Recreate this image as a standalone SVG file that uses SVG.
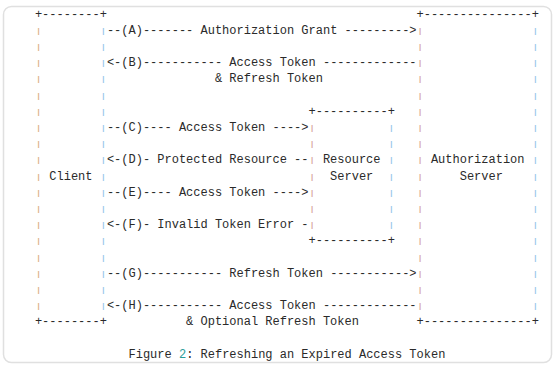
<svg xmlns="http://www.w3.org/2000/svg" width="557" height="370" viewBox="0 0 557 370">
  <style>
    text { font-family: "Liberation Mono", "Courier New", monospace; font-size: 12px; fill: #2a2a2a; }
    .bar { text-anchor: middle; }
    .c-tan { fill: #d9ae82; }
    .c-blue { fill: #93c3ea; }
    .c-rose { fill: #d6a09c; }
    .num { fill: #2a9d9a; }
  </style>

  <!-- panel -->
  <rect x="3.5" y="6.5" width="548" height="356" rx="8" fill="#ffffff" stroke="#e0e0e0" stroke-width="1.5"/>

  <!-- Client -->
  <g id="client">
    <text x="34.9" y="17.6">+--------+</text>
    <text x="34.9" y="325.4">+--------+</text>
    <g transform="scale(1,0.6667)">
      <text class="bar c-tan" x="38.5 38.5 38.5 38.5 38.5 38.5 38.5 38.5 38.5 38.5 38.5 38.5 38.5 38.5 38.5 38.5 38.5 38.5" y="49.15 73.45 97.75 122.05 146.35 170.65 194.95 219.25 243.55 267.85 292.15 316.45 340.75 365.05 389.35 413.65 437.95 462.25">||||||||||||||||||</text>
      <text class="bar c-blue" x="103.3 103.3 103.3 103.3 103.3 103.3 103.3 103.3 103.3 103.3 103.3 103.3 103.3 103.3 103.3 103.3 103.3 103.3" y="49.15 73.45 97.75 122.05 146.35 170.65 194.95 219.25 243.55 267.85 292.15 316.45 340.75 365.05 389.35 413.65 437.95 462.25">||||||||||||||||||</text>
    </g>
    <text x="49.3" y="179.6">Client</text>
  </g>

  <!-- Resource Server -->
  <g id="resource-server">
    <text x="308.5" y="114.8">+----------+</text>
    <text x="308.5" y="244.4">+----------+</text>
    <g transform="scale(1,0.6667)">
      <text class="bar c-rose" x="312.1 312.1 312.1 312.1 312.1 312.1 312.1" y="194.95 219.25 243.55 267.85 292.15 316.45 340.75">|||||||</text>
      <text class="bar c-blue" x="391.3 391.3 391.3 391.3 391.3 391.3 391.3" y="194.95 219.25 243.55 267.85 292.15 316.45 340.75">|||||||</text>
    </g>
    <text x="322.9" y="163.4">Resource</text>
    <text x="330.1" y="179.6">Server</text>
  </g>

  <!-- Authorization Server -->
  <g id="authorization-server">
    <text x="416.5" y="17.6">+---------------+</text>
    <text x="416.5" y="325.4">+---------------+</text>
    <g transform="scale(1,0.6667)">
      <text class="bar c-rose" x="420.1 420.1 420.1 420.1 420.1 420.1 420.1 420.1 420.1 420.1 420.1 420.1 420.1 420.1 420.1 420.1 420.1 420.1" y="49.15 73.45 97.75 122.05 146.35 170.65 194.95 219.25 243.55 267.85 292.15 316.45 340.75 365.05 389.35 413.65 437.95 462.25">||||||||||||||||||</text>
      <text class="bar c-blue" x="535.3 535.3 535.3 535.3 535.3 535.3 535.3 535.3 535.3 535.3 535.3 535.3 535.3 535.3 535.3 535.3 535.3 535.3" y="49.15 73.45 97.75 122.05 146.35 170.65 194.95 219.25 243.55 267.85 292.15 316.45 340.75 365.05 389.35 413.65 437.95 462.25">||||||||||||||||||</text>
    </g>
    <text x="430.9" y="163.4">Authorization</text>
    <text x="459.7" y="179.6">Server</text>
  </g>

  <!-- message arrows, drawn as monospace runs -->
  <g id="connectors">
    <text x="106.9" y="33.8">--(A)------- Authorization Grant ---------&gt;</text>
    <text x="106.9" y="66.2">&lt;-(B)----------- Access Token -------------</text>
    <text x="214.9" y="82.4">&amp; Refresh Token</text>
    <text x="106.9" y="131.0">--(C)---- Access Token ----&gt;</text>
    <text x="106.9" y="163.4">&lt;-(D)- Protected Resource --</text>
    <text x="106.9" y="195.8">--(E)---- Access Token ----&gt;</text>
    <text x="106.9" y="228.2">&lt;-(F)- Invalid Token Error -</text>
    <text x="106.9" y="276.8">--(G)----------- Refresh Token -----------&gt;</text>
    <text x="106.9" y="309.2">&lt;-(H)----------- Access Token -------------</text>
    <text x="186.1" y="325.4">&amp; Optional Refresh Token</text>
  </g>

  <!-- caption -->
  <g id="caption">
    <text x="128.5" y="357.8">Figure <tspan class="num">2</tspan>: Refreshing an Expired Access Token</text>
  </g>
</svg>
